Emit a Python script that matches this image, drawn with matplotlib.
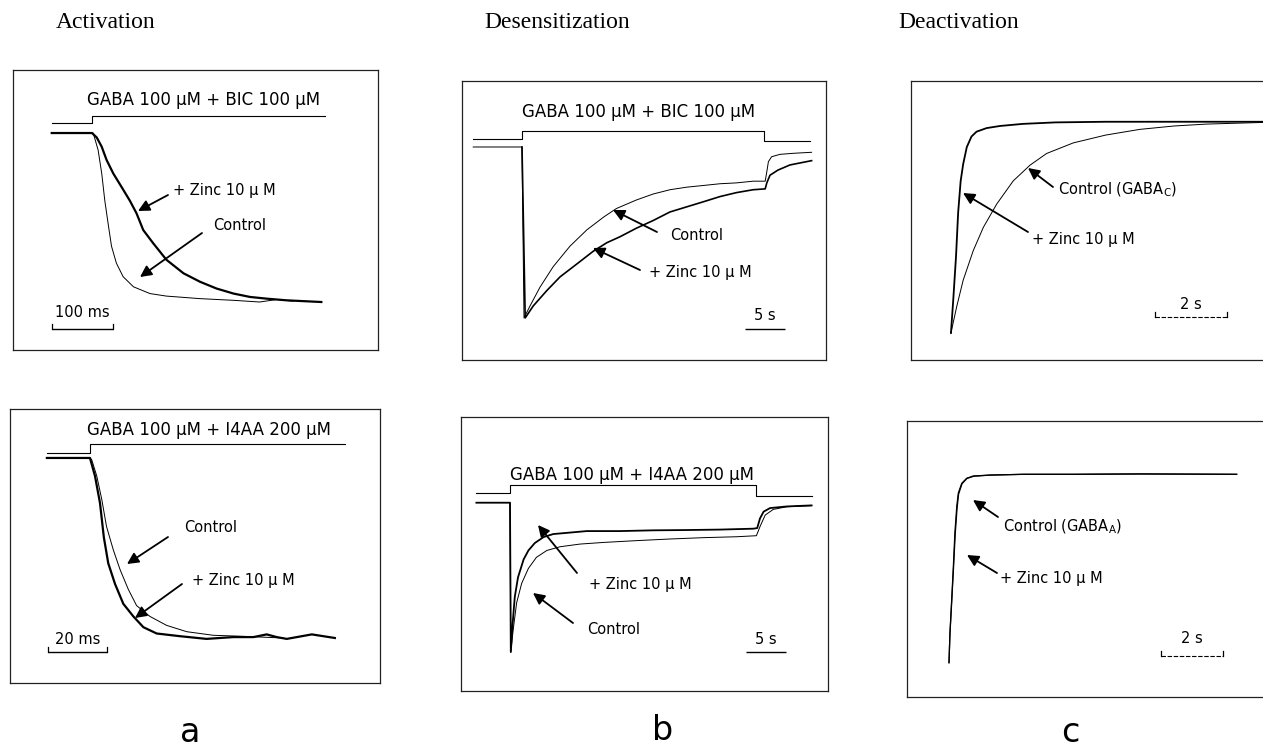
import matplotlib
matplotlib.use('Agg')
import matplotlib.pyplot as plt
from matplotlib.patches import FancyArrowPatch

W, H = 1263, 748
SANS = ['DejaVu Sans']
SERIF = ['Liberation Serif', 'DejaVu Serif']

# ---------------- data (time, normalised current) ----------------
# Panel a, top: activation, GABA + BIC (time in ms)
a1_stim_t = [-66, 0, 0, 382]
a1_stim_y = [0.057, 0.057, 0.10, 0.10]
a1_zinc_t = [-66, 0, 7.7, 15.8, 24, 35, 48.6, 62, 73, 84, 100.5, 122, 150, 177, 204, 232, 259, 286, 319, 376]
a1_zinc_i = [0, 0, -0.026, -0.08, -0.16, -0.24, -0.32, -0.40, -0.475, -0.574, -0.653, -0.75, -0.83, -0.88,
             -0.92, -0.95, -0.97, -0.98, -0.99, -1.0]
a1_ctrl_t = [-66, 2, 10, 16, 21, 27, 32, 40, 51, 68, 95, 122, 177, 232, 275, 303, 330]
a1_ctrl_i = [0, 0, -0.10, -0.24, -0.40, -0.55, -0.67, -0.77, -0.85, -0.91, -0.95, -0.965, -0.98, -0.99,
             -1.0, -0.985, -0.995]

# Panel a, bottom: activation, GABA + I4AA (time in ms)
a2_stim_t = [-14.6, 0, 0, 86.4]
a2_stim_y = [0.03, 0.03, 0.076, 0.076]
a2_zinc_t = [-14.6, 0, 1.7, 3.4, 4.7, 6.2, 8.5, 11.3, 14.7, 18.1, 22.6, 30.5, 39.5, 48.6, 55.4, 59.9, 63.3,
             66.7, 75.2, 83]
a2_zinc_i = [0, 0, -0.10, -0.25, -0.44, -0.585, -0.70, -0.81, -0.88, -0.94, -0.975, -0.99, -1.005, -0.995,
             -0.995, -0.98, -0.995, -1.005, -0.98, -1.0]
a2_ctrl_t = [0, 0.6, 2.3, 4.0, 5.6, 7.9, 10.2, 13.0, 15.8, 20.3, 26, 32.8, 41.8, 50.8, 65.5]
a2_ctrl_i = [0, -0.01, -0.10, -0.23, -0.38, -0.51, -0.62, -0.73, -0.82, -0.88, -0.93, -0.965, -0.985,
             -0.99, -1.0]

# Panel b, top: desensitization, GABA + BIC (time in s)
b1_stim_t = [-6.1, 0, 0, 30.2, 30.2, 36.0]
b1_stim_y = [0.047, 0.047, 0.095, 0.095, 0.035, 0.035]
b1_ctrl_t = [-6.1, 0, 0.25, 1.0, 2.25, 3.9, 6.0, 8.1, 10.2, 11.8, 14.3, 16.4, 18.5, 20.6, 22.7, 24.75, 26.8,
             28.9, 30.4, 30.6, 30.8, 31.2, 32.25, 33.9, 36.2]
b1_ctrl_i = [0, 0, -1.0, -0.93, -0.82, -0.70, -0.58, -0.485, -0.41, -0.36, -0.31, -0.275, -0.25, -0.235,
             -0.225, -0.215, -0.21, -0.20, -0.20, -0.145, -0.086, -0.057, -0.043, -0.037, -0.031]
b1_zinc_t = [0, 0.4, 1.4, 3.1, 4.75, 7.25, 8.9, 10.6, 12.25, 14.3, 16.4, 18.5, 20.6, 22.7, 24.75, 26.8, 28.9,
             30.4, 30.6, 31.0, 32.0, 33.5, 36.2]
b1_zinc_i = [0, -1.0, -0.93, -0.84, -0.76, -0.67, -0.61, -0.56, -0.525, -0.475, -0.43, -0.38, -0.35, -0.32,
             -0.29, -0.267, -0.25, -0.245, -0.21, -0.165, -0.135, -0.105, -0.08]

# Panel b, bottom: desensitization, GABA + I4AA (time in s)
b2_stim_t = [-4.2, 0, 0, 30.8, 30.8, 37.7]
b2_stim_y = [0.0625, 0.0625, 0.118, 0.118, 0.047, 0.047]
b2_zinc_t = [-4.2, 0, 0.1, 0.33, 0.6, 1.0, 1.7, 2.3, 3.1, 4.2, 5.4, 7.5, 9.6, 13.75, 17.9, 22.1, 26.25, 30.4,
             30.9, 31.25, 31.7, 32.5, 34.6, 37.7]
b2_zinc_i = [0, 0, -1.0, -0.81, -0.63, -0.50, -0.38, -0.32, -0.27, -0.23, -0.21, -0.20, -0.19, -0.19, -0.185,
             -0.183, -0.18, -0.174, -0.17, -0.105, -0.06, -0.036, -0.025, -0.018]
b2_ctrl_t = [0, 0.1, 0.4, 0.83, 1.46, 2.3, 3.3, 4.6, 6.25, 8.75, 11.7, 15.8, 20.0, 24.2, 28.3, 30.8, 31.25,
             31.9, 32.9, 34.6, 37.7]
b2_ctrl_i = [0, -1.0, -0.85, -0.67, -0.54, -0.44, -0.366, -0.32, -0.295, -0.277, -0.266, -0.254, -0.243,
             -0.234, -0.228, -0.221, -0.16, -0.083, -0.045, -0.027, -0.02]

# Panel c, top: deactivation, GABA_C (time in s)
c1_zinc_t = [0, 0.065, 0.14, 0.2, 0.27, 0.34, 0.44, 0.57, 0.71, 0.99, 1.36, 2.0, 2.9, 4.3, 6.2, 8.7]
c1_zinc_i = [-1.0, -0.84, -0.64, -0.43, -0.28, -0.20, -0.12, -0.07, -0.047, -0.03, -0.02, -0.01, -0.003,
             0, 0, 0]
c1_ctrl_t = [0, 0.16, 0.34, 0.62, 0.9, 1.27, 1.73, 2.2, 2.66, 3.4, 4.3, 5.25, 6.2, 7.1, 8.7]
c1_ctrl_i = [-1.0, -0.875, -0.75, -0.61, -0.50, -0.39, -0.28, -0.205, -0.15, -0.10, -0.063, -0.036, -0.02,
             -0.011, -0.003]

# Panel c, bottom: deactivation, GABA_A (time in s)
c2_ctrl_t = [0, 0.03, 0.086, 0.14, 0.19, 0.25, 0.3, 0.41, 0.57, 0.78, 1.32, 2.4, 4.0, 6.2, 9.28]
c2_ctrl_i = [-1.0, -0.845, -0.667, -0.49, -0.31, -0.17, -0.10, -0.048, -0.021, -0.009, -0.004, 0, 0,
             0.002, 0]
c2_zinc_t = [0, 0.03, 0.09, 0.145, 0.2, 0.26, 0.31, 0.42, 0.58, 0.8, 1.35, 2.4, 4.0, 6.2, 9.28]
c2_zinc_i = [-1.0, -0.85, -0.67, -0.50, -0.32, -0.18, -0.105, -0.05, -0.022, -0.01, -0.004, 0, 0, 0.002, 0]

titles = ['Activation', 'Desensitization', 'Deactivation']
letters = ['a', 'b', 'c']
drug_bic = 'GABA 100 \u00b5M + BIC 100 \u00b5M'
drug_i4aa = 'GABA 100 \u00b5M + I4AA 200 \u00b5M'
lab_zinc = '+ Zinc 10 \u00b5 M'
lab_ctrl = 'Control'

# ---------------- figure ----------------
fig = plt.figure(figsize=(W / 100, H / 100), dpi=100)
fig.patch.set_facecolor('white')


def fx(x):
    return x / W


def fy(y):
    return 1 - y / H


def make_ax(box, xlim, ylim, right=True):
    x0, y0, x1, y1 = box
    ax = fig.add_axes([fx(x0), fy(y1), (x1 - x0) / W, (y1 - y0) / H])
    ax.set_xlim(*xlim)
    ax.set_ylim(*ylim)
    ax.set_xticks([])
    ax.set_yticks([])
    for s in ax.spines.values():
        s.set_linewidth(0.9)
        s.set_color('#222222')
    if not right:
        ax.spines['right'].set_visible(False)
    return ax


def label(x, y, s, size=10.5, ha='center'):
    fig.text(fx(x), fy(y), s, ha=ha, va='center', fontsize=size, family=SANS, color='black')


def arrow(tail, tip):
    fig.add_artist(FancyArrowPatch(posA=(fx(tail[0]), fy(tail[1])), posB=(fx(tip[0]), fy(tip[1])),
                                   transform=fig.transFigure, arrowstyle='-|>', mutation_scale=17,
                                   lw=1.3, color='black', shrinkA=0, shrinkB=0))


def scalebar(ax, x0, length, y, text, ty, ticks=True, dotted=False):
    ax.plot([x0, x0 + length], [y, y], color='black', lw=1.0 if not dotted else 0.8,
            ls=(0, (4, 1.5)) if dotted else '-', solid_capstyle='butt')
    if ticks:
        h = 0.018 * (ax.get_ylim()[1] - ax.get_ylim()[0])
        for xx in (x0, x0 + length):
            ax.plot([xx, xx], [y, y + h], color='black', lw=0.9)
    ax.text(x0 + length / 2, ty, text, ha='center', va='center', fontsize=10.5, family=SANS)


THIN = 0.7
THICK = 1.6
GSIZE = 12

# a top
ax = make_ax((13, 70, 378, 350), (-129.5, 468.9), (-1.284, 0.373))
ax.plot(a1_stim_t, a1_stim_y, color='black', lw=0.8)
ax.plot(a1_ctrl_t, a1_ctrl_i, color='black', lw=THIN)
ax.plot(a1_zinc_t, a1_zinc_i, color='black', lw=THICK)
scalebar(ax, -65.6, 100, -1.16, '100 ms', -1.065)

# a bottom
ax = make_ax((10, 409, 380, 683), (-27.1, 98.3), (-1.25, 0.272))
ax.plot(a2_stim_t, a2_stim_y, color='black', lw=0.8)
ax.plot(a2_ctrl_t, a2_ctrl_i, color='black', lw=THIN)
ax.plot(a2_zinc_t, a2_zinc_i, color='black', lw=THICK)
scalebar(ax, -14.2, 20, -1.078, '20 ms', -1.006)

# b top
ax = make_ax((462, 81, 826, 360), (-7.5, 38.0), (-1.246, 0.386))
ax.plot(b1_stim_t, b1_stim_y, color='black', lw=0.8)
ax.plot(b1_ctrl_t, b1_ctrl_i, color='black', lw=THIN)
ax.plot(b1_zinc_t, b1_zinc_i, color='black', lw=1.2)
scalebar(ax, 27.9, 5, -1.064, '5 s', -0.988, ticks=False)

# b bottom
ax = make_ax((461, 417, 828, 691), (-6.125, 39.75), (-1.261, 0.574))
ax.plot(b2_stim_t, b2_stim_y, color='black', lw=0.8)
ax.plot(b2_ctrl_t, b2_ctrl_i, color='black', lw=THIN)
ax.plot(b2_zinc_t, b2_zinc_i, color='black', lw=1.3)
scalebar(ax, 29.5, 5, -1.0, '5 s', -0.914, ticks=False)

# c top
ax = make_ax((911, 81, 1263, 360), (-1.11, 8.67), (-1.128, 0.193), right=False)
ax.plot(c1_ctrl_t, c1_ctrl_i, color='black', lw=THIN)
ax.plot(c1_zinc_t, c1_zinc_i, color='black', lw=1.3)
scalebar(ax, 5.67, 2, -0.924, '2 s', -0.867, dotted=True)

# c bottom
ax = make_ax((907, 421, 1263, 697), (-1.355, 10.13), (-1.182, 0.283), right=False)
ax.plot(c2_ctrl_t, c2_ctrl_i, color='black', lw=0.9)
ax.plot(c2_zinc_t, c2_zinc_i, color='black', lw=0.9)
scalebar(ax, 6.84, 2, -0.964, '2 s', -0.874, dotted=True)

# column titles and letters
for x, t in zip([106, 557, 959], titles):
    fig.text(fx(x), fy(22), t, ha='center', va='center', fontsize=17, family=SERIF)
for x, y, l in zip([190, 663, 1070], [733, 731, 733], letters):
    fig.text(fx(x), fy(y), l, ha='center', va='center', fontsize=24, family=SANS)

# in-panel labels and arrows
label(204, 100, drug_bic, size=GSIZE)
label(224, 190, lab_zinc)
arrow((168, 195), (138, 211))
label(240, 225, lab_ctrl)
arrow((202, 233), (140, 277))

label(209, 430, drug_i4aa, size=GSIZE)
label(211, 528, lab_ctrl)
arrow((168, 537), (127, 564))
label(243, 580, lab_zinc)
arrow((182, 584), (135, 618))

label(639, 112, drug_bic, size=GSIZE)
label(697, 235, lab_ctrl)
arrow((657, 232), (613, 210))
label(700, 273, lab_zinc)
arrow((640, 270), (593, 248))

label(632, 475, drug_i4aa, size=GSIZE)
label(640, 585, lab_zinc)
arrow((577, 573), (538, 525))
label(614, 630, lab_ctrl)
arrow((573, 623), (533, 593))

label(1058, 190, 'Control (GABA$_{\\mathregular{C}}$)', ha='left')
arrow((1053, 187), (1028, 168))
label(1083, 239, lab_zinc)
arrow((1028, 232), (963, 193))

label(1003, 527, 'Control (GABA$_{\\mathregular{A}}$)', ha='left')
arrow((998, 517), (973, 500))
label(1051, 578, lab_zinc)
arrow((997, 573), (967, 555))

fig.savefig('out.png', dpi=100, facecolor='white')
